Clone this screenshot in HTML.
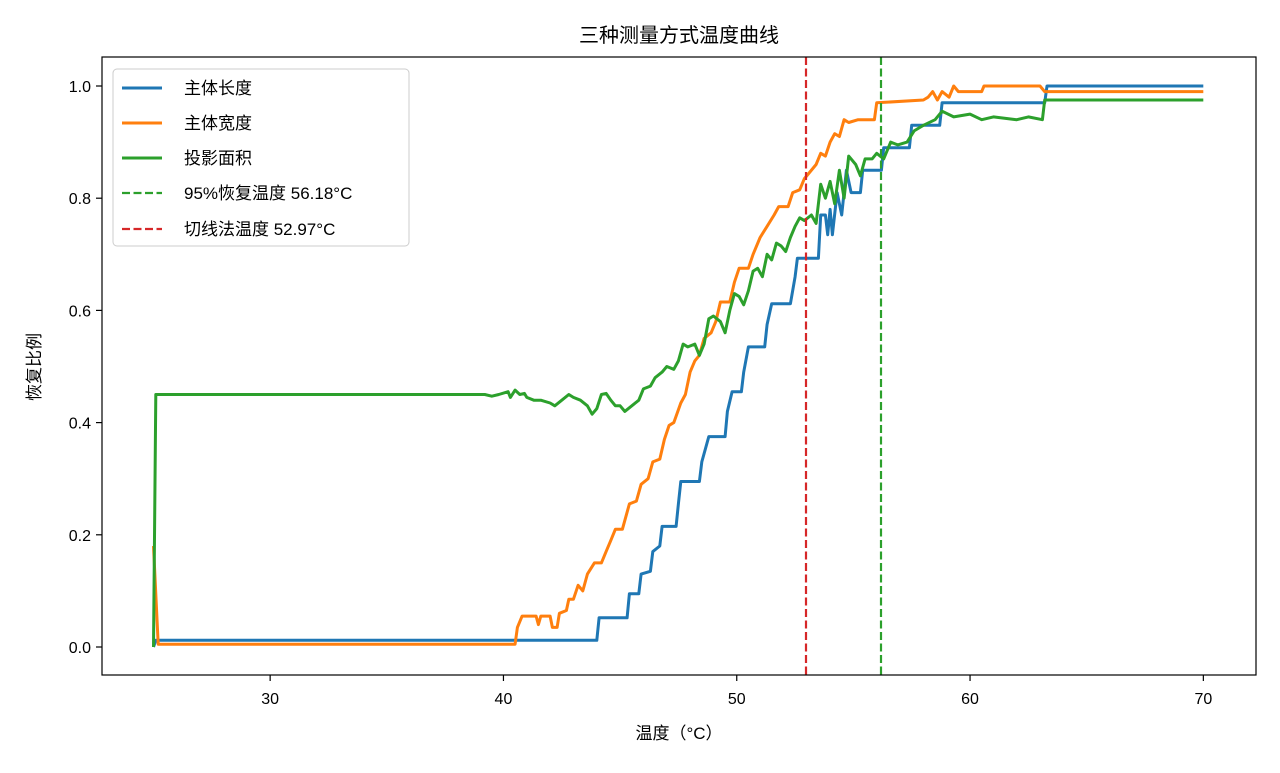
<!DOCTYPE html>
<html><head><meta charset="utf-8">
<style>
body{margin:0;background:#fff;}
svg text{font-family:"Liberation Sans","Noto Sans CJK SC",sans-serif;fill:#000;}
</style></head>
<body>
<svg id="s" width="1280" height="768" xmlns="http://www.w3.org/2000/svg">
<rect width="1280" height="768" fill="#fff"/>
<g id="lines"></g>
<line x1="806" y1="57" x2="806" y2="675" stroke="#d62728" stroke-width="2.2" stroke-dasharray="8,3.5"/>
<line x1="881" y1="57" x2="881" y2="675" stroke="#2ca02c" stroke-width="2.2" stroke-dasharray="8,3.5"/>
<rect x="102" y="57" width="1154" height="618" fill="none" stroke="#000" stroke-width="1.2"/>
<g id="ticks" font-size="16"></g>
<text x="679" y="42" font-size="20" text-anchor="middle">三种测量方式温度曲线</text>
<text x="679" y="739" font-size="17" text-anchor="middle">温度（°C）</text>
<text transform="translate(40,367) rotate(-90)" font-size="17" text-anchor="middle">恢复比例</text>
<g>
<rect x="113" y="69" width="296" height="177" rx="4" fill="#fff" fill-opacity="0.8" stroke="#ccc"/>
<line x1="122" y1="88" x2="162" y2="88" stroke="#1f77b4" stroke-width="3"/>
<text x="184" y="94" font-size="17">主体长度</text>
<line x1="122" y1="123" x2="162" y2="123" stroke="#ff7f0e" stroke-width="3"/>
<text x="184" y="129" font-size="17">主体宽度</text>
<line x1="122" y1="158" x2="162" y2="158" stroke="#2ca02c" stroke-width="3"/>
<text x="184" y="164" font-size="17">投影面积</text>
<line x1="122" y1="193" x2="162" y2="193" stroke="#2ca02c" stroke-width="2.2" stroke-dasharray="8,3.5"/>
<text x="184" y="199" font-size="17">95%恢复温度 56.18°C</text>
<line x1="122" y1="229" x2="162" y2="229" stroke="#d62728" stroke-width="2.2" stroke-dasharray="8,3.5"/>
<text x="184" y="235" font-size="17">切线法温度 52.97°C</text>
</g>
</svg>
<script>
function X(v){return 153.5+(v-25)*23.33;}
function Y(v){return 647-v*561;}
var blue=[[25,0.0],[25.1,0.012],[44,0.012],[44.1,0.052],[45.3,0.052],[45.4,0.095],[45.8,0.095],[45.9,0.13],[46.3,0.135],[46.4,0.17],[46.7,0.18],[46.8,0.215],[47.4,0.215],[47.5,0.255],[47.6,0.295],[48.4,0.295],[48.5,0.33],[48.8,0.375],[49.5,0.375],[49.6,0.42],[49.8,0.455],[50.2,0.455],[50.3,0.49],[50.5,0.535],[51.2,0.535],[51.3,0.575],[51.5,0.612],[52.3,0.612],[52.5,0.66],[52.6,0.693],[53.5,0.693],[53.6,0.77],[53.8,0.77],[53.9,0.735],[54.0,0.78],[54.1,0.735],[54.3,0.81],[54.5,0.77],[54.7,0.85],[54.9,0.81],[55.3,0.81],[55.4,0.85],[56.2,0.85],[56.3,0.89],[57.4,0.89],[57.5,0.93],[58.7,0.93],[58.8,0.97],[63.2,0.97],[63.3,1.0],[70,1.0]];
var orange=[[25,0.18],[25.2,0.005],[40.5,0.005],[40.6,0.035],[40.8,0.055],[41.4,0.055],[41.5,0.04],[41.6,0.055],[42,0.055],[42.1,0.035],[42.3,0.035],[42.4,0.06],[42.7,0.065],[42.8,0.085],[43,0.085],[43.2,0.11],[43.4,0.1],[43.6,0.13],[43.9,0.15],[44.2,0.15],[44.4,0.17],[44.6,0.19],[44.8,0.21],[45.1,0.21],[45.4,0.255],[45.7,0.26],[45.9,0.29],[46.2,0.3],[46.4,0.33],[46.7,0.335],[46.9,0.37],[47.1,0.395],[47.3,0.4],[47.6,0.435],[47.8,0.45],[48,0.49],[48.2,0.51],[48.4,0.52],[48.6,0.55],[48.9,0.56],[49.1,0.58],[49.3,0.615],[49.7,0.615],[49.9,0.65],[50.1,0.675],[50.5,0.675],[50.7,0.7],[51,0.73],[51.3,0.75],[51.6,0.77],[51.8,0.785],[52.2,0.785],[52.4,0.81],[52.7,0.815],[52.9,0.835],[53.1,0.845],[53.4,0.86],[53.6,0.88],[53.8,0.875],[54,0.9],[54.2,0.915],[54.4,0.91],[54.6,0.94],[54.8,0.935],[55.2,0.94],[55.9,0.94],[56,0.97],[58,0.975],[58.2,0.98],[58.4,0.99],[58.6,0.975],[58.8,0.99],[59.1,0.98],[59.3,1.0],[59.5,0.99],[60.5,0.99],[60.6,1.0],[63,1.0],[63.2,0.99],[70,0.99]];
var green=[[25,0.0],[25.1,0.45],[39.2,0.45],[39.5,0.447],[39.8,0.45],[40.2,0.455],[40.3,0.445],[40.5,0.458],[40.7,0.45],[40.9,0.452],[41,0.445],[41.3,0.44],[41.6,0.44],[42,0.435],[42.2,0.43],[42.5,0.44],[42.8,0.45],[43,0.445],[43.3,0.44],[43.6,0.43],[43.8,0.415],[44,0.425],[44.2,0.45],[44.4,0.452],[44.6,0.44],[44.8,0.43],[45,0.43],[45.2,0.42],[45.5,0.43],[45.8,0.44],[46,0.46],[46.3,0.465],[46.5,0.48],[46.8,0.49],[47,0.5],[47.3,0.495],[47.5,0.51],[47.7,0.54],[47.9,0.535],[48.2,0.54],[48.4,0.52],[48.6,0.54],[48.8,0.585],[49,0.59],[49.3,0.58],[49.5,0.56],[49.7,0.6],[49.9,0.63],[50.1,0.625],[50.3,0.61],[50.5,0.635],[50.7,0.67],[50.9,0.675],[51.1,0.66],[51.3,0.7],[51.5,0.69],[51.7,0.72],[51.9,0.715],[52.1,0.705],[52.3,0.73],[52.5,0.75],[52.7,0.765],[52.9,0.76],[53.2,0.77],[53.4,0.755],[53.6,0.825],[53.8,0.8],[54,0.83],[54.2,0.79],[54.4,0.85],[54.6,0.8],[54.8,0.875],[55.1,0.86],[55.3,0.84],[55.5,0.87],[55.8,0.87],[56,0.88],[56.3,0.87],[56.6,0.9],[56.9,0.895],[57.3,0.9],[57.6,0.92],[58,0.93],[58.5,0.94],[58.8,0.955],[59.3,0.945],[60,0.95],[60.5,0.94],[61,0.945],[62,0.94],[62.5,0.945],[63.1,0.94],[63.2,0.975],[70,0.975]];
var NS="http://www.w3.org/2000/svg";
function add(g,d,c){var p=document.createElementNS(NS,"path");p.setAttribute("d","M"+d.map(function(q){return X(q[0]).toFixed(1)+","+Y(q[1]).toFixed(1)}).join("L"));p.setAttribute("fill","none");p.setAttribute("stroke",c);p.setAttribute("stroke-width","3");p.setAttribute("stroke-linejoin","round");g.appendChild(p);}
var g=document.getElementById("lines");
add(g,blue,"#1f77b4");add(g,orange,"#ff7f0e");add(g,green,"#2ca02c");
var t=document.getElementById("ticks"),h="";
[30,40,50,60,70].forEach(function(v){var x=X(v);h+='<line x1="'+x+'" y1="675" x2="'+x+'" y2="681" stroke="#000" stroke-width="1.2"/><text x="'+x+'" y="704" text-anchor="middle">'+v+'</text>';});
[0,0.2,0.4,0.6,0.8,1.0].forEach(function(v){var y=Y(v);h+='<line x1="96" y1="'+y+'" x2="102" y2="'+y+'" stroke="#000" stroke-width="1.2"/><text x="91" y="'+(y+6)+'" text-anchor="end">'+v.toFixed(1)+'</text>';});
t.innerHTML=h;
</script>
</body></html>
